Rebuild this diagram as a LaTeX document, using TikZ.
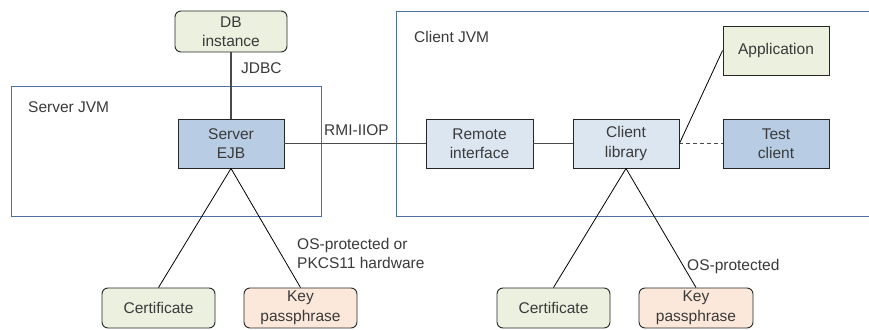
\documentclass[tikz,border=0pt]{standalone}
\usepackage{fontspec}
\setmainfont{Liberation Sans}
\definecolor{txt}{HTML}{3A3A3A}
\definecolor{frame}{HTML}{4F6FA0}
\definecolor{greenfill}{HTML}{EBF0DF}
\definecolor{peachfill}{HTML}{FCE8DA}
\definecolor{bluefill}{HTML}{B8CCE4}
\definecolor{palefill}{HTML}{DCE6F1}
\definecolor{wire}{HTML}{4A4A4A}
\tikzset{
  box/.style={draw=black!85, line width=0.9pt, minimum width=106pt, minimum height=49pt,
    inner sep=0pt, align=center, text=txt, font=\fontsize{15.5}{19.5}\selectfont},
  roundbox/.style={box, rounded corners=6pt, minimum width=112pt, minimum height=41pt},
  container/.style={draw=frame, line width=0.8pt},
  lbl/.style={text=txt, font=\fontsize{15.5}{19.5}\selectfont, inner sep=0pt, anchor=west, align=left},
  wireline/.style={draw=wire, line width=1.2pt},
  diag/.style={draw=black, line width=0.8pt},
}
\begin{document}
\begin{tikzpicture}[x=1pt, y=-1pt]
\useasboundingbox (0,0) rectangle (869,329);
\clip (0,0) rectangle (869,329);
\fill[white] (0,0) rectangle (869,329);

% JVM containers
\draw[container] (11,86) rectangle (321,216);
\draw[container] (880,11) -- (396,11) -- (396,216) -- (880,216);
\node[lbl] (serverjvm) at (28,107) {Server JVM};
\node[lbl] (clientjvm) at (414,37) {Client JVM};

% components
\node[roundbox, fill=greenfill] (db) at (231,31.5) {DB\\instance};
\node[box, fill=bluefill] (ejb) at (231,143.5) {Server\\EJB};
\node[box, fill=palefill, minimum width=107pt] (remote) at (479.5,143.5) {Remote\\interface};
\node[box, fill=palefill] (clib) at (626,143.5) {Client\\library};
\node[box, fill=greenfill] (app) at (776,50.5) {Application};
\node[box, fill=bluefill] (test) at (776,143.5) {Test\\client};

% key material
\node[roundbox, fill=greenfill, minimum width=113pt, minimum height=40pt] (cert1) at (158.5,308) {Certificate};
\node[roundbox, fill=peachfill, minimum width=113pt, minimum height=40pt] (key1) at (300.5,308) {Key\\passphrase};
\node[roundbox, fill=greenfill, minimum width=113pt, minimum height=40pt] (cert2) at (553.5,308) {Certificate};
\node[roundbox, fill=peachfill, minimum width=114pt, minimum height=40pt] (key2) at (696,308) {Key\\passphrase};

% connectors
\draw[wireline] (db.south) -- (ejb.north);
\draw[wireline] (ejb.east) -- (remote.west);
\draw[wireline] (remote.east) -- (clib.west);
\draw[wireline, dashed, dash pattern=on 4pt off 3pt] (clib.east) -- (test.west);
\draw[diag] (clib.east) -- (app.west);
\draw[diag] (ejb.south) -- (cert1.north);
\draw[diag] (ejb.south) -- (key1.north);
\draw[diag] (clib.south) -- (cert2.north);
\draw[diag] (clib.south) -- (key2.north);

% connector labels
\node[lbl] (jdbc) at (241,68) {JDBC};
\node[lbl] (rmi) at (324,130) {RMI-IIOP};
\node[lbl] (osp1) at (297,253.5) {OS-protected or\\PKCS11 hardware};
\node[lbl] (osp2) at (687,266) {OS-protected};
\end{tikzpicture}
\end{document}
